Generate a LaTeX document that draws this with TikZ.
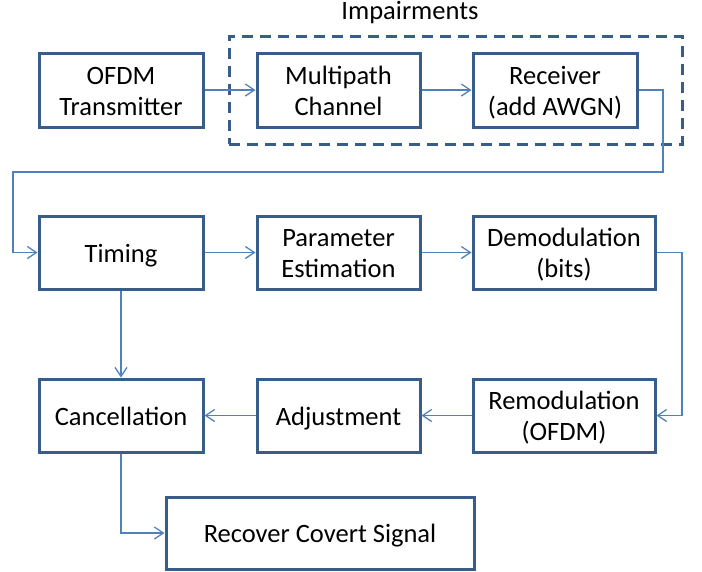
\documentclass[tikz,border=0pt]{standalone}
\usepackage{fontspec}
\setmainfont{Carlito}
\usetikzlibrary{arrows.meta}
\definecolor{boxc}{HTML}{385D8A}
\definecolor{arrc}{HTML}{4F81BD}
\newcommand\bxtext[1]{\raisebox{-10pt}[0pt][0pt]{\begin{tabular}{@{}c@{}}#1\end{tabular}}}
\tikzset{
  txt/.style={font=\fontsize{26.5}{31}\selectfont, text=black},
  blk/.style={txt, draw=boxc, line width=3pt, fill=white, inner sep=0pt},
  conn/.style={draw=arrc, line width=1.6pt, -{Straight Barb[length=9pt,width=12pt,line width=1.3pt]}},
}
\begin{document}
\begin{tikzpicture}[x=1pt,y=-1pt]
\useasboundingbox (0,0) rectangle (702,571);
% dashed impairments box
\node[draw=boxc, line width=3pt, dash pattern=on 11pt off 7pt, minimum width=453pt, minimum height=108pt, inner sep=0pt] (imp) at (455.5,90) {};
\node[txt, inner sep=0pt] (impl) at (410,13) {Impairments};
% row 1
\node[blk, minimum width=164pt, minimum height=74pt] (tx) at (121,90) {\bxtext{OFDM\\Transmitter}};
\node[blk, minimum width=163pt, minimum height=74pt] (mp) at (338.5,90) {\bxtext{Multipath\\Channel}};
\node[blk, minimum width=164pt, minimum height=74pt] (rx) at (555,90) {\bxtext{Receiver\\(add AWGN)}};
% row 2
\node[blk, minimum width=164pt, minimum height=73pt] (tim) at (121,252.5) {\bxtext{Timing}};
\node[blk, minimum width=163pt, minimum height=73pt] (par) at (338.5,252.5) {\bxtext{Parameter\\Estimation}};
\node[blk, minimum width=182pt, minimum height=73pt] (dem) at (564,252.5) {\bxtext{Demodulation\\(bits)}};
% row 3
\node[blk, minimum width=164pt, minimum height=73pt] (can) at (121,415.5) {\bxtext{Cancellation}};
\node[blk, minimum width=163pt, minimum height=73pt] (adj) at (338.5,415.5) {\bxtext{Adjustment}};
\node[blk, minimum width=182pt, minimum height=73pt] (rem) at (564,415.5) {\bxtext{Remodulation\\(OFDM)}};
% row 4
\node[blk, minimum width=308pt, minimum height=72pt] (rec) at (320,533) {\bxtext{Recover Covert Signal}};
% waypoints
\coordinate (w1) at (663,90);
\coordinate (w2) at (663,172);
\coordinate (w3) at (13,172);
\coordinate (w4) at (13,252.5);
\coordinate (w5) at (682,252.5);
\coordinate (w6) at (682,415.5);
\coordinate (w7) at (121,533);
% connectors
\draw[conn] (tx.east) -- (mp.west);
\draw[conn] (mp.east) -- (rx.west);
\draw[conn] (rx.east) -- (w1) -- (w2) -- (w3) -- (w4) -- (tim.west);
\draw[conn] (tim.east) -- (par.west);
\draw[conn] (par.east) -- (dem.west);
\draw[conn] (dem.east) -- (w5) -- (w6) -- (rem.east);
\draw[conn] (rem.west) -- (adj.east);
\draw[conn] (adj.west) -- (can.east);
\draw[conn] (tim.south) -- (can.north);
\draw[conn] (can.south) -- (w7) -- (rec.west);
\end{tikzpicture}
\end{document}
